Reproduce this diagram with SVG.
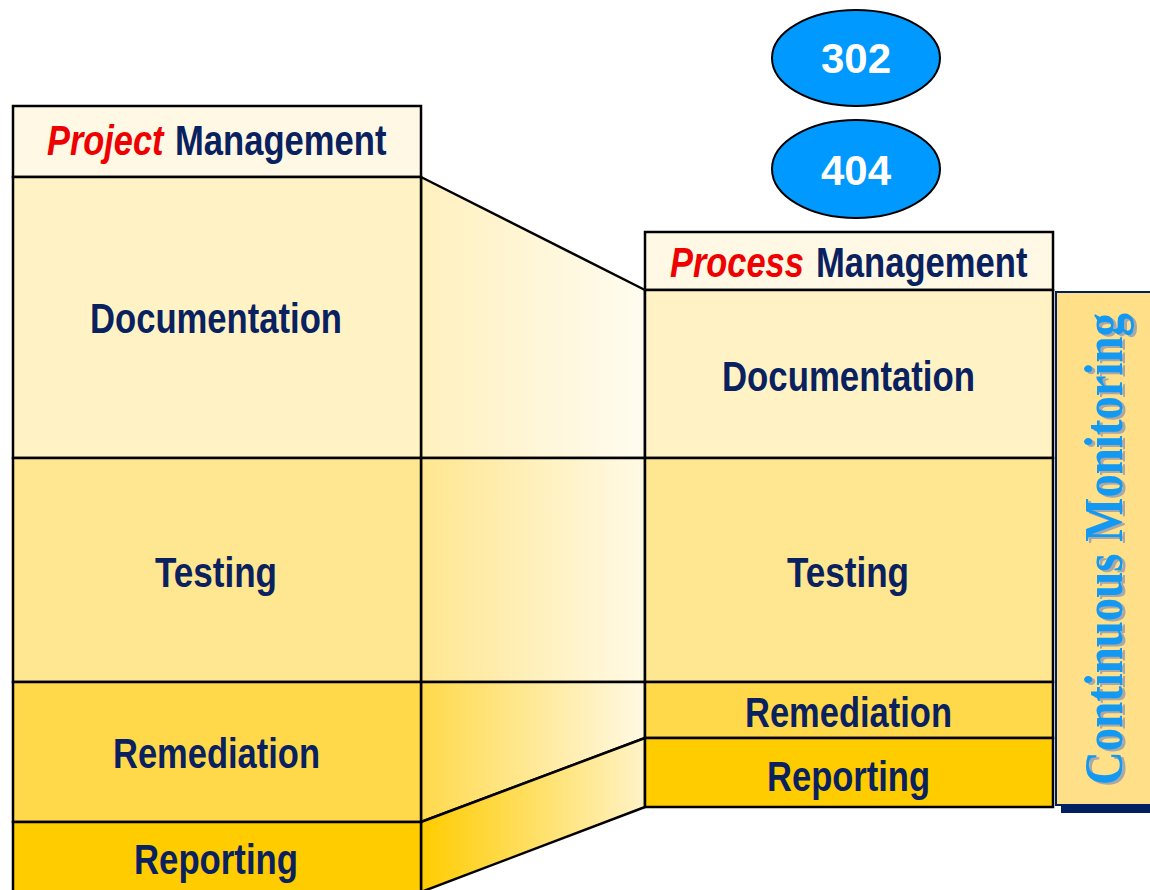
<svg xmlns="http://www.w3.org/2000/svg" width="1150" height="890" viewBox="0 0 1150 890">
  <defs>
    <linearGradient id="gDoc" x1="0" y1="0" x2="1" y2="0">
      <stop offset="0" stop-color="#FFF0BE"/>
      <stop offset="1" stop-color="#FFFCF0"/>
    </linearGradient>
    <linearGradient id="gTest" x1="0" y1="0" x2="1" y2="0">
      <stop offset="0" stop-color="#FFE690"/>
      <stop offset="1" stop-color="#FFFAE6"/>
    </linearGradient>
    <linearGradient id="gRem" x1="0" y1="0" x2="1" y2="0">
      <stop offset="0" stop-color="#FFD94A"/>
      <stop offset="1" stop-color="#FFF9E4"/>
    </linearGradient>
    <linearGradient id="gRep" x1="0" y1="0" x2="1" y2="0">
      <stop offset="0" stop-color="#FFCC00"/>
      <stop offset="1" stop-color="#FFF3C8"/>
    </linearGradient>
    <style>
      .band { stroke: #000; stroke-width: 2.5; }
      .hdr { fill: #FFF8E4; }
      .doc { fill: #FFF3C6; }
      .test { fill: #FFE690; }
      .rem { fill: #FFD94A; }
      .rep { fill: #FFCC00; }
      .lbl { font-family: "Liberation Sans", Arial, sans-serif; font-weight: bold; font-size: 43px; fill: #0A2160; }
      .em { font-family: "Liberation Sans", Arial, sans-serif; font-weight: bold; font-style: italic; font-size: 43px; fill: #EE0000; }
      .num { font-family: "Liberation Sans", Arial, sans-serif; font-weight: bold; font-size: 42px; fill: #FFFFFF; }
      .link { stroke: #000; stroke-width: 2.5; stroke-linejoin: round; }
      .cm { font-family: "Liberation Serif", "Times New Roman", serif; font-weight: bold; font-size: 54px; }
    </style>
  </defs>

  <rect width="1150" height="890" fill="#FFFFFF"/>

  <!-- connector bands between the two columns -->
  <g id="connectors">
    <polygon class="link" fill="url(#gDoc)" points="421,177 645,290 645,458 421,458"/>
    <polygon class="link" fill="url(#gTest)" points="421,458 645,458 645,682 421,682"/>
    <polygon class="link" fill="url(#gRem)" points="421,682 645,682 645,738 421,822"/>
    <polygon class="link" fill="url(#gRep)" points="421,822 645,738 645,807 421,892"/>
  </g>

  <!-- left column: project management -->
  <g id="project-header">
    <rect class="band hdr" x="13" y="106" width="408" height="71"/>
    <text class="em" transform="translate(47,155) scale(0.8,1)">Project</text>
    <text class="lbl" transform="translate(175,155) scale(0.805,1)">Management</text>
  </g>
  <g id="project-documentation">
    <rect class="band doc" x="13" y="177" width="408" height="281"/>
    <text class="lbl" x="90" y="333" textLength="252" lengthAdjust="spacingAndGlyphs">Documentation</text>
  </g>
  <g id="project-testing">
    <rect class="band test" x="13" y="458" width="408" height="224"/>
    <text class="lbl" x="155" y="587" textLength="122" lengthAdjust="spacingAndGlyphs">Testing</text>
  </g>
  <g id="project-remediation">
    <rect class="band rem" x="13" y="682" width="408" height="140"/>
    <text class="lbl" x="113" y="768" textLength="207" lengthAdjust="spacingAndGlyphs">Remediation</text>
  </g>
  <g id="project-reporting">
    <rect class="band rep" x="13" y="822" width="408" height="72"/>
    <text class="lbl" x="134" y="874" textLength="164" lengthAdjust="spacingAndGlyphs">Reporting</text>
  </g>

  <!-- right column: process management -->
  <g id="process-header">
    <rect class="band hdr" x="645" y="232" width="408" height="58"/>
    <text class="em" transform="translate(670,277) scale(0.8,1)">Process</text>
    <text class="lbl" transform="translate(816,277) scale(0.805,1)">Management</text>
  </g>
  <g id="process-documentation">
    <rect class="band doc" x="645" y="290" width="408" height="168"/>
    <text class="lbl" x="722" y="391" textLength="253" lengthAdjust="spacingAndGlyphs">Documentation</text>
  </g>
  <g id="process-testing">
    <rect class="band test" x="645" y="458" width="408" height="224"/>
    <text class="lbl" x="787" y="587" textLength="122" lengthAdjust="spacingAndGlyphs">Testing</text>
  </g>
  <g id="process-remediation">
    <rect class="band rem" x="645" y="682" width="408" height="56"/>
    <text class="lbl" x="745" y="727" textLength="207" lengthAdjust="spacingAndGlyphs">Remediation</text>
  </g>
  <g id="process-reporting">
    <rect class="band rep" x="645" y="738" width="408" height="69"/>
    <text class="lbl" x="767" y="791" textLength="163" lengthAdjust="spacingAndGlyphs">Reporting</text>
  </g>

  <!-- status badges -->
  <g id="badge-302">
    <ellipse cx="856" cy="58" rx="84" ry="48" fill="#0099FF" stroke="#000" stroke-width="2"/>
    <text class="num" x="856" y="73" text-anchor="middle">302</text>
  </g>
  <g id="badge-404">
    <ellipse cx="856" cy="169" rx="84" ry="49" fill="#0099FF" stroke="#000" stroke-width="2"/>
    <text class="num" x="856" y="185" text-anchor="middle">404</text>
  </g>

  <!-- side panel -->
  <g id="continuous-monitoring">
    <rect x="1061" y="297" width="100" height="516" fill="#002060"/>
    <rect x="1056" y="292" width="100" height="513" fill="#FFE088" stroke="#002060" stroke-width="2"/>
    <g transform="translate(3,2)">
      <text class="cm" fill="#A8A8A8" transform="translate(1122,785) rotate(-90)" textLength="472" lengthAdjust="spacingAndGlyphs">Continuous Monitoring</text>
    </g>
    <text class="cm" fill="#1499F2" transform="translate(1122,785) rotate(-90)" textLength="472" lengthAdjust="spacingAndGlyphs">Continuous Monitoring</text>
  </g>
</svg>
